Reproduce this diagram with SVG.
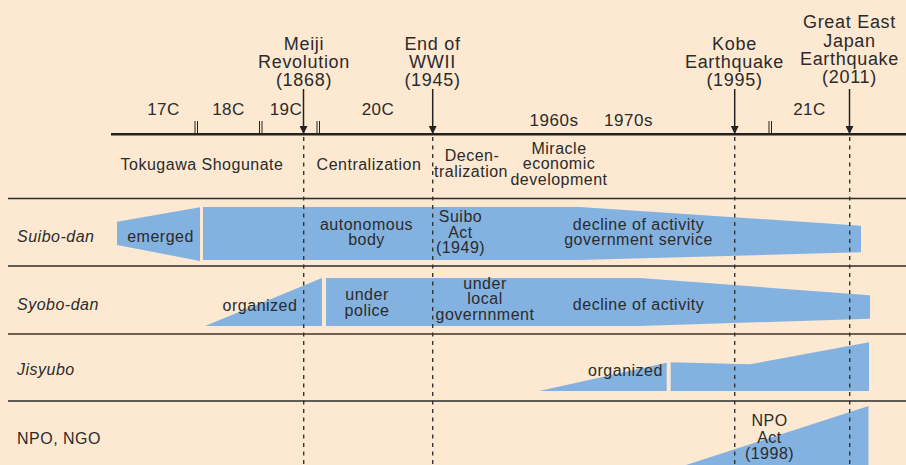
<svg xmlns="http://www.w3.org/2000/svg" width="906" height="465" viewBox="0 0 906 465">
<defs>
<style>
text{font-family:"Liberation Sans",Arial,sans-serif;fill:#2b2b2b;font-size:16px;letter-spacing:0.5px}
.c{text-anchor:middle}
.ev{font-size:18px;letter-spacing:0.7px;text-anchor:middle}
.cen{font-size:17px;letter-spacing:0.5px;text-anchor:middle}
.it{font-style:italic}
.bar{fill:#84b2e0}
.sep{stroke:#2b2b2b;stroke-width:1.5}
.dash{stroke:#333;stroke-width:1.4;stroke-dasharray:4 4.5;fill:none}
.arr{stroke:#222;stroke-width:1.5;fill:none}
.tick{stroke:#222;stroke-width:1}
</style>
<marker id="ah" viewBox="0 0 8 8" refX="8" refY="4" markerWidth="8" markerHeight="8" markerUnits="userSpaceOnUse" orient="auto">
<path d="M0,0 L8,4 L0,8 Z" fill="#222"/>
</marker>
</defs>
<rect width="906" height="465" fill="#fde9d2"/>

<g id="bars">
<g id="suibo-bars">
<polygon class="bar" points="117,221.7 200,207.3 200,261 117,245"/>
<polygon class="bar" points="203,207 580,207 861,225.7 861,252.3 580,260 203,260"/>
</g>
<g id="syobo-bars">
<polygon class="bar" points="205,326 322,278 322,326"/>
<polygon class="bar" points="326,278 640,278 870,295.3 870,318.7 640,326 326,326"/>
</g>
<g id="jisyubo-bars">
<polygon class="bar" points="539,391 666.7,362.7 666.7,391"/>
<polygon class="bar" points="670.7,362.3 749.7,364.3 869,342.3 869,391 670.7,391"/>
</g>
<g id="npo-bars">
<polygon class="bar" points="686,465 868.5,406 868.5,465"/>
</g>
</g>

<g id="grid">
<line class="sep" x1="8" y1="198.5" x2="906" y2="198.5"/>
<line class="sep" x1="8" y1="266" x2="906" y2="266"/>
<line x1="8" y1="334" x2="906" y2="334" stroke="#6e6152" stroke-width="2.2"/>
<line class="sep" x1="8" y1="401" x2="906" y2="401"/>
<line x1="111" y1="134.3" x2="906" y2="134.3" stroke="#222" stroke-width="2.6"/>
</g>

<g id="ticks">
<path class="tick" d="M195,121 V134 M197.5,121 V134 M259.5,121 V134 M262,121 V134 M317,121 V134 M319.5,121 V134 M769,121 V134 M771.5,121 V134"/>
</g>

<g id="connectors">
<line class="dash" x1="303.7" y1="137" x2="303.7" y2="465"/>
<line class="dash" x1="432.7" y1="137" x2="432.7" y2="465"/>
<line class="dash" x1="734.7" y1="137" x2="734.7" y2="465"/>
<line class="dash" x1="849.7" y1="137" x2="849.7" y2="465"/>
<line class="arr" x1="303.5" y1="89" x2="303.5" y2="134" marker-end="url(#ah)"/>
<line class="arr" x1="432.7" y1="89" x2="432.7" y2="134" marker-end="url(#ah)"/>
<line class="arr" x1="734.7" y1="89" x2="734.7" y2="134" marker-end="url(#ah)"/>
<line class="arr" x1="849.5" y1="89" x2="849.5" y2="134" marker-end="url(#ah)"/>
</g>

<g id="events">
<g id="meiji"><text class="ev" x="304" y="50">Meiji</text><text class="ev" x="304" y="68">Revolution</text><text class="ev" x="304" y="86">(1868)</text></g>
<g id="wwii"><text class="ev" x="432.5" y="50">End of</text><text class="ev" x="432.5" y="68">WWII</text><text class="ev" x="432.5" y="86">(1945)</text></g>
<g id="kobe"><text class="ev" x="734.5" y="50">Kobe</text><text class="ev" x="734.5" y="68">Earthquake</text><text class="ev" x="734.5" y="86">(1995)</text></g>
<g id="tohoku"><text class="ev" x="849.5" y="28.3">Great East</text><text class="ev" x="849.5" y="46.5">Japan</text><text class="ev" x="849.5" y="65">Earthquake</text><text class="ev" x="849.5" y="83.3">(2011)</text></g>
</g>

<g id="eras">
<text class="cen" x="163.5" y="115">17C</text>
<text class="cen" x="228.5" y="115">18C</text>
<text class="cen" x="286" y="115">19C</text>
<text class="cen" x="378" y="115">20C</text>
<text class="cen" x="809.5" y="115">21C</text>
<text class="cen" x="554" y="126">1960s</text>
<text class="cen" x="628.5" y="126">1970s</text>
</g>

<g id="periods">
<text class="c" x="202" y="170">Tokugawa Shogunate</text>
<text class="c" x="369" y="170">Centralization</text>
<text class="c" x="472" y="161">Decen-</text>
<text class="c" x="471" y="177">tralization</text>
<text class="c" x="559" y="153.5">Miracle</text>
<text class="c" x="559" y="169.3">economic</text>
<text class="c" x="559" y="184.5">development</text>
</g>

<g id="row-suibo">
<text class="it" x="17" y="242">Suibo-dan</text>
<text class="c" x="160.5" y="242">emerged</text>
<text class="c" x="366.5" y="229.5">autonomous</text>
<text class="c" x="366.5" y="245">body</text>
<text class="c" x="460.5" y="221.7">Suibo</text>
<text class="c" x="460.5" y="237.7">Act</text>
<text class="c" x="460.5" y="252.5">(1949)</text>
<text class="c" x="638.5" y="230">decline of activity</text>
<text class="c" x="638.5" y="244.5">government service</text>
</g>

<g id="row-syobo">
<text class="it" x="17" y="310">Syobo-dan</text>
<text class="c" x="260" y="310.7">organized</text>
<text class="c" x="367" y="300">under</text>
<text class="c" x="367" y="315.5">police</text>
<text class="c" x="485" y="288.5">under</text>
<text class="c" x="485" y="304.3">local</text>
<text class="c" x="485" y="320">governnment</text>
<text class="c" x="638.5" y="310">decline of activity</text>
</g>

<g id="row-jisyubo">
<text class="it" x="17" y="375">Jisyubo</text>
<text class="c" x="625.5" y="375.7">organized</text>
</g>

<g id="row-npo">
<text x="17" y="443.5">NPO, NGO</text>
<text class="c" x="769.5" y="426">NPO</text>
<text class="c" x="769.5" y="443.3">Act</text>
<text class="c" x="769.5" y="459">(1998)</text>
</g>
</svg>
